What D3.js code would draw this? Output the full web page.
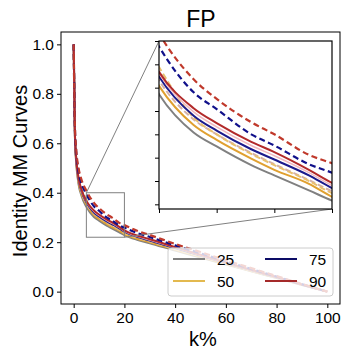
<!DOCTYPE html>
<html>
<head>
<meta charset="utf-8">
<script src="https://cdn.jsdelivr.net/npm/d3@7"></script>
<style>
  body { margin: 0; background: #fff; }
  svg { font-family: "Liberation Sans", Arial, sans-serif; }
</style>
</head>
<body>
<svg id="chart" width="353" height="352"></svg>
<script>
const kValues = [0, 0.5, 1, 2, 3, 5, 8, 10, 13, 15, 18, 20, 25, 30, 40, 50, 60, 70, 80, 90, 100];

const gray25   = [1.0, 0.620, 0.520, 0.430, 0.390, 0.343, 0.302, 0.287, 0.267, 0.256, 0.240, 0.229, 0.210, 0.196, 0.166, 0.138, 0.110, 0.082, 0.055, 0.027, 0.0];
const gold50   = [1.0, 0.625, 0.525, 0.437, 0.398, 0.352, 0.310, 0.294, 0.274, 0.262, 0.247, 0.233, 0.214, 0.200, 0.169, 0.140, 0.112, 0.083, 0.056, 0.028, 0.0];
const gold50d  = [1.0, 0.635, 0.540, 0.455, 0.415, 0.372, 0.318, 0.300, 0.279, 0.267, 0.250, 0.237, 0.218, 0.203, 0.172, 0.143, 0.114, 0.085, 0.057, 0.028, 0.0];
const gray25d  = [1.0, 0.630, 0.530, 0.445, 0.405, 0.358, 0.316, 0.300, 0.280, 0.268, 0.251, 0.239, 0.219, 0.204, 0.173, 0.143, 0.114, 0.085, 0.057, 0.028, 0.0];
const navy75   = [1.0, 0.630, 0.535, 0.450, 0.410, 0.362, 0.320, 0.304, 0.284, 0.273, 0.256, 0.2425, 0.222, 0.207, 0.176, 0.146, 0.116, 0.087, 0.058, 0.029, 0.0];
const pink90   = [1.0, 0.632, 0.537, 0.452, 0.412, 0.365, 0.324, 0.308, 0.288, 0.277, 0.259, 0.245, 0.224, 0.209, 0.178, 0.147, 0.117, 0.087, 0.058, 0.029, 0.0];
const red90    = [1.0, 0.635, 0.540, 0.455, 0.415, 0.367, 0.328, 0.312, 0.292, 0.281, 0.262, 0.248, 0.227, 0.212, 0.180, 0.149, 0.118, 0.088, 0.059, 0.029, 0.0];
const navy75d  = [1.0, 0.655, 0.565, 0.480, 0.440, 0.394, 0.345, 0.327, 0.300, 0.288, 0.268, 0.259, 0.237, 0.221, 0.187, 0.155, 0.123, 0.092, 0.061, 0.030, 0.0];
const red90d   = [1.0, 0.665, 0.575, 0.495, 0.455, 0.408, 0.359, 0.338, 0.313, 0.300, 0.278, 0.269, 0.246, 0.229, 0.193, 0.160, 0.127, 0.095, 0.063, 0.031, 0.0];

const xTicks = [0, 20, 40, 60, 80, 100];
const yTicks = [0.0, 0.2, 0.4, 0.6, 0.8, 1.0];
const insetXTicks = [5, 10, 15, 20];
const insetYTicks = [0.225, 0.25, 0.275, 0.3, 0.325, 0.35, 0.375, 0.4];
const zoomBox = {x0: 5, x1: 20, y0: 0.22, y1: 0.40};

const legendLabels = ["25", "50", "75", "90"];
const legendColors = ["#808080", "#e3b94f", "#0c0c66", "#a52a2a"];

const lines = [
  {vals: gray25, color: "#808080", dash: null, w: 2},
  {vals: gold50, color: "#e0a030", dash: null, w: 2},
  {vals: gray25d, color: "#d4b0a8", dash: "6,3", w: 2},
  {vals: gold50d, color: "#e8c070", dash: "6,3", w: 2},
  {vals: navy75, color: "#1a1a8c", dash: null, w: 2},
  {vals: pink90, color: "#f0b8c0", dash: null, w: 1.5},
  {vals: red90, color: "#b22a2a", dash: null, w: 2},
  {vals: navy75d, color: "#10108a", dash: "6,3.5", w: 2.2},
  {vals: red90d, color: "#c0392b", dash: "6,3.5", w: 2.2}
];

const svg = d3.select("#chart");
const mLeft = 61, mRight = 340, mTop = 32, mBottom = 304;

const x = d3.scaleLinear().domain([-5, 105]).range([mLeft, mRight]);
const y = d3.scaleLinear().domain([-0.05, 1.05]).range([mBottom, mTop]);

const defs = svg.append("defs");
defs.append("clipPath").attr("id", "mainclip")
  .append("rect").attr("x", mLeft).attr("y", mTop)
  .attr("width", mRight - mLeft).attr("height", mBottom - mTop);

const mainLine = d3.line()
  .x((d, i) => x(kValues[i]))
  .y(d => y(d))
  .curve(d3.curveMonotoneX);

const plot = svg.append("g").attr("clip-path", "url(#mainclip)");
lines.forEach(l => {
  plot.append("path")
    .attr("d", mainLine(l.vals))
    .attr("fill", "none")
    .attr("stroke", l.color)
    .attr("stroke-width", l.w)
    .attr("stroke-dasharray", l.dash);
});

// axes
svg.append("g")
  .attr("transform", `translate(0,${mBottom})`)
  .call(d3.axisBottom(x).tickValues(xTicks).tickFormat(d3.format("d")).tickSizeOuter(0).tickSize(4))
  .call(g => g.select(".domain").remove())
  .call(g => g.selectAll("text").attr("font-size", 15.5).attr("fill", "#000")
    .attr("font-family", "Liberation Sans, Arial, sans-serif").attr("dy", "0.8em"));

svg.append("g")
  .attr("transform", `translate(${mLeft},0)`)
  .call(d3.axisLeft(y).tickValues(yTicks).tickFormat(d3.format(".1f")).tickSizeOuter(0).tickSize(4))
  .call(g => g.select(".domain").remove())
  .call(g => g.selectAll("text").attr("font-size", 15.5).attr("fill", "#000")
    .attr("font-family", "Liberation Sans, Arial, sans-serif"));

svg.append("rect")
  .attr("x", mLeft).attr("y", mTop)
  .attr("width", mRight - mLeft).attr("height", mBottom - mTop)
  .attr("fill", "none").attr("stroke", "#000").attr("stroke-width", 1);

// zoom indicator
svg.append("rect")
  .attr("x", x(zoomBox.x0)).attr("y", y(zoomBox.y1))
  .attr("width", x(zoomBox.x1) - x(zoomBox.x0))
  .attr("height", y(zoomBox.y0) - y(zoomBox.y1))
  .attr("fill", "none").attr("stroke", "#808080").attr("stroke-width", 1);

// inset
const iLeft = 159, iRight = 332, iTop = 41, iBottom = 209;
const ix = d3.scaleLinear().domain([zoomBox.x0, zoomBox.x1]).range([iLeft, iRight]);
const iy = d3.scaleLinear().domain([zoomBox.y0, zoomBox.y1]).range([iBottom, iTop]);

svg.append("line")
  .attr("x1", x(zoomBox.x0)).attr("y1", y(zoomBox.y1))
  .attr("x2", iLeft).attr("y2", iTop)
  .attr("stroke", "#808080").attr("stroke-width", 1);
svg.append("line")
  .attr("x1", x(zoomBox.x1)).attr("y1", y(zoomBox.y0))
  .attr("x2", iRight).attr("y2", iBottom)
  .attr("stroke", "#808080").attr("stroke-width", 1);

svg.append("rect")
  .attr("x", iLeft).attr("y", iTop)
  .attr("width", iRight - iLeft).attr("height", iBottom - iTop)
  .attr("fill", "#fff");

defs.append("clipPath").attr("id", "insetclip")
  .append("rect").attr("x", iLeft).attr("y", iTop)
  .attr("width", iRight - iLeft).attr("height", iBottom - iTop);

const insetLine = d3.line()
  .x((d, i) => ix(kValues[i]))
  .y(d => iy(d))
  .curve(d3.curveMonotoneX);

const inset = svg.append("g").attr("clip-path", "url(#insetclip)");
lines.forEach(l => {
  inset.append("path")
    .attr("d", insetLine(l.vals))
    .attr("fill", "none")
    .attr("stroke", l.color)
    .attr("stroke-width", l.w)
    .attr("stroke-dasharray", l.dash);
});

svg.append("g")
  .attr("transform", `translate(0,${iBottom})`)
  .call(d3.axisBottom(ix).tickValues(insetXTicks).tickFormat("").tickSizeOuter(0).tickSize(4))
  .call(g => g.select(".domain").remove());
svg.append("g")
  .attr("transform", `translate(${iLeft},0)`)
  .call(d3.axisLeft(iy).tickValues(insetYTicks).tickFormat("").tickSizeOuter(0).tickSize(4))
  .call(g => g.select(".domain").remove());

svg.append("rect")
  .attr("x", iLeft).attr("y", iTop)
  .attr("width", iRight - iLeft).attr("height", iBottom - iTop)
  .attr("fill", "none").attr("stroke", "#000").attr("stroke-width", 1.2);

// legend
const legend = svg.append("g").attr("transform", "translate(168,248)");
legend.append("rect")
  .attr("width", 165).attr("height", 48).attr("rx", 3)
  .attr("fill", "#fff").attr("fill-opacity", 0.8)
  .attr("stroke", "#cccccc").attr("stroke-width", 1);

legendLabels.forEach((lab, i) => {
  const col = Math.floor(i / 2), row = i % 2;
  const gx = 5 + col * 92, gy = 11 + row * 22;
  legend.append("line")
    .attr("x1", gx).attr("x2", gx + 32)
    .attr("y1", gy).attr("y2", gy)
    .attr("stroke", legendColors[i]).attr("stroke-width", 2);
  legend.append("text")
    .attr("x", gx + 44).attr("y", gy + 5.5)
    .attr("font-size", 15.5).attr("fill", "#000")
    .text(lab);
});

// title and labels
svg.append("text")
  .attr("x", 201).attr("y", 27)
  .attr("text-anchor", "middle")
  .attr("font-size", 23)
  .text("FP");

svg.append("text")
  .attr("x", 203).attr("y", 346)
  .attr("text-anchor", "middle")
  .attr("font-size", 20)
  .text("k%");

svg.append("text")
  .attr("transform", "translate(27,171) rotate(-90)")
  .attr("text-anchor", "middle")
  .attr("font-size", 20)
  .text("Identity MM Curves");
</script>
</body>
</html>
